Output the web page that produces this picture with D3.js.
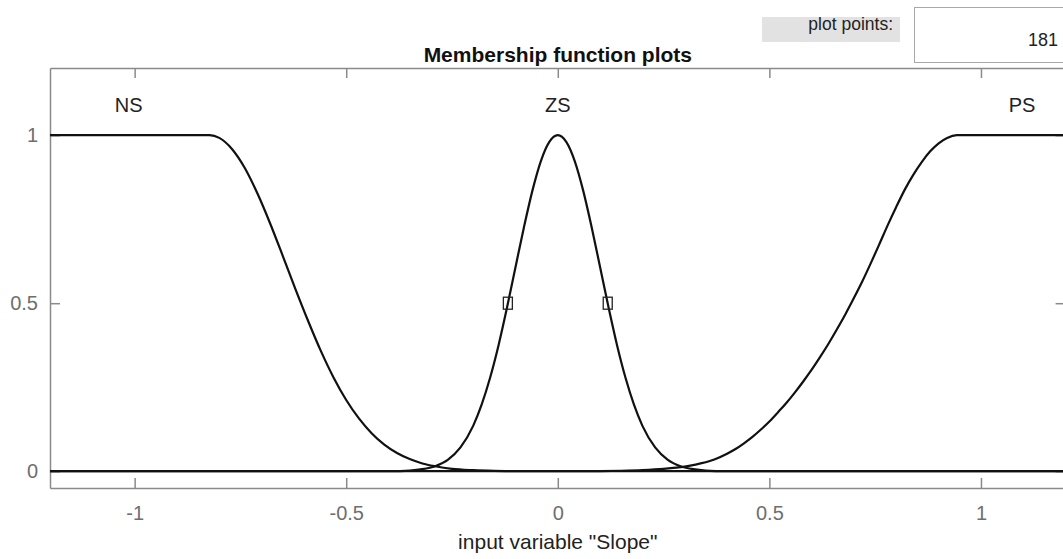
<!DOCTYPE html>
<html>
<head>
<meta charset="utf-8">
<script src="https://cdn.jsdelivr.net/npm/d3@7"></script>
<style>
  html, body { margin: 0; padding: 0; background: #fff; }
  svg { display: block; font-family: "Liberation Sans", Arial, sans-serif; }
</style>
</head>
<body>
<svg id="chart" width="1063" height="559"></svg>
<script>
// ---- data ----
const xTicks = [-1, -0.5, 0, 0.5, 1];
const xTickLabels = ["-1", "-0.5", "0", "0.5", "1"];
const yTicks = [0, 0.5, 1];
const yTickLabels = ["0", "0.5", "1"];

const mfNames = ["NS", "ZS", "PS"];
const mfLabelX = [-1.014, 0, 1.097];

// NS membership curve (x, degree)
const nsX = [-1.2, -0.823, -0.80, -0.77, -0.74, -0.71, -0.68, -0.65, -0.62, -0.59, -0.56, -0.53, -0.50, -0.47, -0.44, -0.41, -0.38, -0.35, -0.32, -0.29, -0.25, -0.20, -0.15, -0.10, -0.05, 0, 1.2];
const nsY = [1, 1, 0.992, 0.959, 0.903, 0.827, 0.738, 0.641, 0.542, 0.447, 0.358, 0.279, 0.212, 0.157, 0.113, 0.079, 0.054, 0.036, 0.023, 0.0147, 0.007, 0.003, 0.001, 0.0003, 0.0001, 0, 0];

// ZS membership curve
const zsX = [-1.2, -0.5, -0.45, -0.40, -0.35, -0.32, -0.29, -0.26, -0.23, -0.20, -0.18, -0.16, -0.14, -0.12, -0.10, -0.08, -0.06, -0.04, -0.02, 0, 0.02, 0.04, 0.06, 0.08, 0.10, 0.12, 0.14, 0.16, 0.18, 0.20, 0.23, 0.26, 0.29, 0.32, 0.35, 0.40, 0.45, 0.5, 1.2];
const zsY = [0, 0, 0.00004, 0.0003, 0.002, 0.006, 0.015, 0.034, 0.071, 0.135, 0.198, 0.278, 0.375, 0.487, 0.607, 0.726, 0.835, 0.923, 0.980, 1, 0.980, 0.923, 0.835, 0.726, 0.607, 0.487, 0.375, 0.278, 0.198, 0.135, 0.071, 0.034, 0.015, 0.006, 0.002, 0.0003, 0.00004, 0, 0];

// PS membership curve
const psX = [-1.2, 0, 0.05, 0.10, 0.15, 0.20, 0.25, 0.28, 0.31, 0.34, 0.37, 0.40, 0.42, 0.44, 0.46, 0.48, 0.50, 0.52, 0.54, 0.56, 0.58, 0.60, 0.62, 0.64, 0.66, 0.68, 0.70, 0.72, 0.74, 0.76, 0.78, 0.80, 0.82, 0.84, 0.86, 0.88, 0.90, 0.92, 0.943, 1.2];
const psY = [0, 0, 0.0001, 0.0005, 0.0014, 0.0032, 0.0068, 0.0105, 0.016, 0.024, 0.035, 0.052, 0.066, 0.083, 0.102, 0.124, 0.148, 0.175, 0.203, 0.234, 0.267, 0.302, 0.340, 0.380, 0.423, 0.468, 0.516, 0.566, 0.620, 0.676, 0.733, 0.787, 0.838, 0.882, 0.920, 0.952, 0.976, 0.992, 1, 1];

// half-height handles of the selected MF (ZS)
const handleX = [-0.118, 0.118];
const handleY = [0.5, 0.5];

const plotPointsLabel = "plot points:";
const plotPointsValue = "181";
const titleText = "Membership function plots";
const xLabelText = 'input variable "Slope"';

// ---- drawing ----
const svg = d3.select("#chart");
const W = 1063, H = 559;
const mLeft = 50, mRight = 1065.6, mTop = 68, mBottom = 488;

svg.append("rect").attr("width", W).attr("height", H).attr("fill", "#fff");

const x = d3.scaleLinear().domain([-1.2, 1.2]).range([mLeft, mRight]);
const y = d3.scaleLinear().domain([-0.05, 1.2]).range([mBottom, mTop]);

const axisColor = "#8a8a8a";
const tickTextColor = "#6e6e6e";
const tickFont = 20;
const labelFont = 20;

function styleAxis(g, showText) {
  g.select(".domain").attr("stroke", axisColor).attr("stroke-width", 1.5);
  g.selectAll(".tick line").attr("stroke", axisColor).attr("stroke-width", 1.5);
  g.selectAll(".tick text").attr("fill", tickTextColor)
    .attr("font-size", tickFont).attr("font-family", "Liberation Sans, Arial, sans-serif");
  if (!showText) g.selectAll(".tick text").remove();
}

const gx = svg.append("g").attr("transform", `translate(0,${mBottom})`)
  .call(d3.axisBottom(x).tickValues(xTicks).tickSizeInner(-10).tickSizeOuter(0)
        .tickPadding(18).tickFormat((d, i) => xTickLabels[i]));
styleAxis(gx, true);

const gxTop = svg.append("g").attr("transform", `translate(0,${mTop})`)
  .call(d3.axisTop(x).tickValues(xTicks).tickSizeInner(-10).tickSizeOuter(0));
styleAxis(gxTop, false);

const gy = svg.append("g").attr("transform", `translate(${mLeft},0)`)
  .call(d3.axisLeft(y).tickValues(yTicks).tickSizeInner(-10).tickSizeOuter(0)
        .tickPadding(12).tickFormat((d, i) => yTickLabels[i]));
styleAxis(gy, true);

const gyR = svg.append("g").attr("transform", `translate(${mRight},0)`)
  .call(d3.axisRight(y).tickValues(yTicks).tickSizeInner(-10).tickSizeOuter(0));
styleAxis(gyR, false);

// curves
const line = d3.line().x(d => x(d[0])).y(d => y(d[1])).curve(d3.curveMonotoneX);
const series = [
  d3.zip(nsX, nsY),
  d3.zip(zsX, zsY),
  d3.zip(psX, psY)
];
svg.append("g").selectAll("path").data(series).join("path")
  .attr("d", line)
  .attr("fill", "none")
  .attr("stroke", "#111")
  .attr("stroke-width", 2.2)
  .attr("stroke-linejoin", "round");

// handles
svg.append("g").selectAll("rect").data(d3.zip(handleX, handleY)).join("rect")
  .attr("x", d => x(d[0]) - 4.5)
  .attr("y", d => y(d[1]) - 6)
  .attr("width", 9).attr("height", 12)
  .attr("fill", "none").attr("stroke", "#222").attr("stroke-width", 1.3);

// MF names
svg.append("g").selectAll("text").data(mfNames).join("text")
  .attr("x", (d, i) => x(mfLabelX[i]))
  .attr("y", 112)
  .attr("text-anchor", "middle")
  .attr("font-size", labelFont)
  .attr("fill", "#222")
  .text(d => d);

// title
svg.append("text").attr("x", x(0)).attr("y", 62)
  .attr("text-anchor", "middle").attr("font-size", 21).attr("font-weight", "bold")
  .attr("fill", "#111").text(titleText);

// x label
svg.append("text").attr("x", x(0)).attr("y", 549)
  .attr("text-anchor", "middle").attr("font-size", 21)
  .attr("fill", "#222").text(xLabelText);

// plot points widget
svg.append("rect").attr("x", 762).attr("y", 17).attr("width", 138).attr("height", 25)
  .attr("fill", "#e2e2e2");
svg.append("text").attr("x", 893).attr("y", 30)
  .attr("text-anchor", "end").attr("font-size", 17.5).attr("fill", "#222")
  .text(plotPointsLabel);
svg.append("rect").attr("x", 914.5).attr("y", 7.5).attr("width", 160).attr("height", 55)
  .attr("fill", "#fff").attr("stroke", "#a8a8a8").attr("stroke-width", 1);
svg.append("text").attr("x", 1058).attr("y", 46)
  .attr("text-anchor", "end").attr("font-size", 18).attr("fill", "#222")
  .text(plotPointsValue);
</script>
</body>
</html>
